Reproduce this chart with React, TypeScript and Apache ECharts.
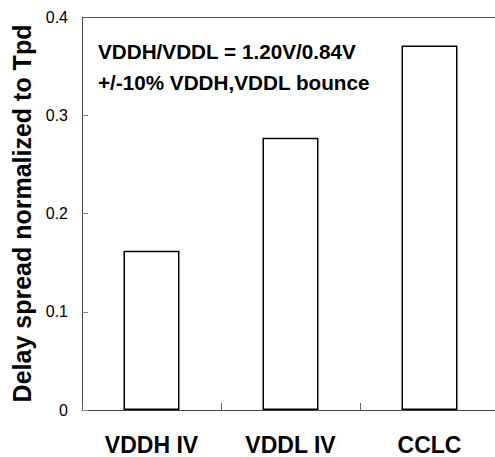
import React, { useEffect, useRef } from "react";
import * as echarts from "echarts";

const categories = ["VDDH IV", "VDDL IV", "CCLC"];
const delaySpread = [0.162, 0.277, 0.371];
const yTicks = { min: 0, max: 0.4, interval: 0.1 };
const annotationLines = ["VDDH/VDDL = 1.20V/0.84V", "+/-10% VDDH,VDDL bounce"];
const yTitle = "Delay spread normalized to Tpd";

const FONT = "'Liberation Sans', Arial, Helvetica, sans-serif";

export default function App() {
  const ref = useRef<HTMLDivElement>(null);
  useEffect(() => {
    if (!ref.current) return;
    const chart = echarts.init(ref.current, null, { renderer: "svg" });
    chart.setOption({
      animation: false,
      backgroundColor: "#fff",
      grid: {
        left: 82,
        top: 17,
        width: 417,
        height: 393,
        show: false,
        containLabel: false,
        outerBoundsMode: "none",
      },
      xAxis: {
        type: "category",
        data: categories,
        axisLine: { show: true, lineStyle: { color: "#444", width: 1 } },
        axisTick: { show: true, inside: true, length: 7, alignWithLabel: false, lineStyle: { color: "#666" } },
        axisLabel: {
          margin: 23,
          fontSize: 23,
          fontWeight: "bold",
          fontFamily: FONT,
          color: "#000",
        },
        splitLine: { show: false },
      },
      yAxis: {
        type: "value",
        min: yTicks.min,
        max: yTicks.max,
        interval: yTicks.interval,
        name: yTitle,
        nameLocation: "middle",
        nameGap: 47,
        nameTextStyle: {
          fontSize: 25,
          fontWeight: "bold",
          fontFamily: FONT,
          color: "#000",
        },
        axisLine: { show: true, lineStyle: { color: "#444", width: 1 } },
        axisTick: { show: true, inside: true, length: 6, lineStyle: { color: "#888" } },
        axisLabel: {
          margin: 14,
          fontSize: 16,
          fontFamily: FONT,
          color: "#000",
        },
        splitLine: { show: false },
      },
      graphic: [
        ...annotationLines.map((t, i) => ({
          type: "text",
          x: 98,
          y: 51 + i * 31,
          style: {
            text: t,
            fontSize: 20.7,
            fontWeight: "bold",
            fontFamily: FONT,
            fill: "#000",
            verticalAlign: "middle",
          },
        })),
        {
          type: "rect",
          z: 100,
          silent: true,
          shape: { x: 488, y: 19, width: 10, height: 389 },
          style: { fill: "#fff" },
        },
      ],
      series: [
        {
          type: "bar",
          data: delaySpread,
          barWidth: 56,
          itemStyle: { color: "#fff", borderColor: "#000", borderWidth: 1.5 },
          markLine: {
            silent: true,
            symbol: "none",
            label: { show: false },
            lineStyle: { color: "#555", width: 1, type: "solid" },
            data: [{ yAxis: yTicks.max }],
          },
        },
      ],
    });
    return () => chart.dispose();
  }, []);
  return (
    <div
      ref={ref}
      style={{ position: "fixed", left: 0, top: 0, width: 495, height: 457 }}
    />
  );
}
